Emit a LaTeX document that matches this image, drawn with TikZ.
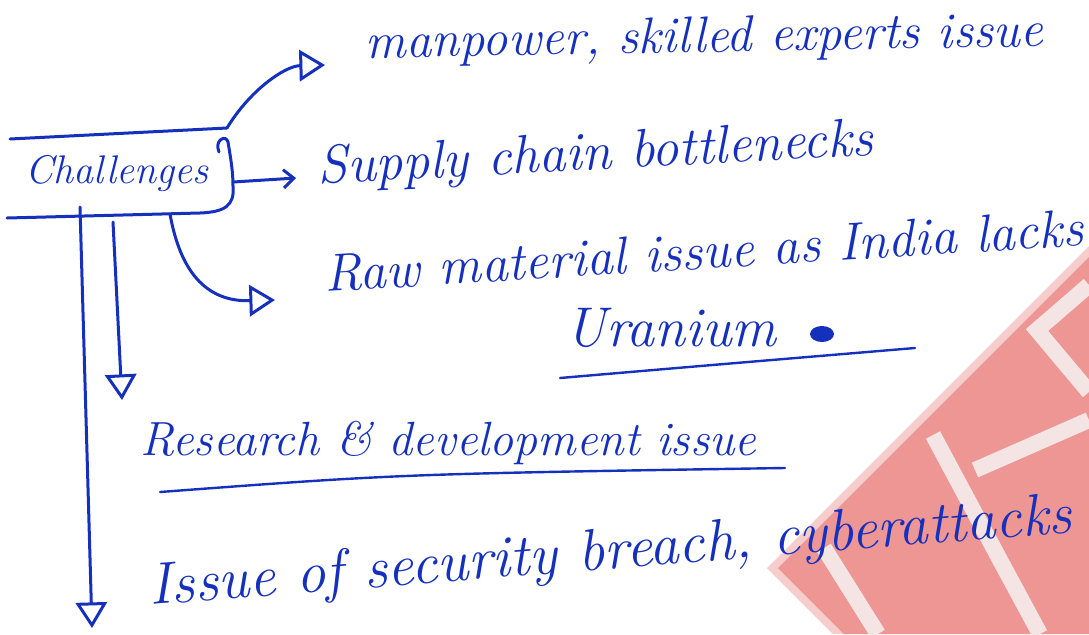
\documentclass[tikz,border=0pt]{standalone}
\usepackage{tikz}
\usetikzlibrary{positioning,arrows.meta,calc}

\definecolor{ink}{RGB}{22,48,190}
\definecolor{wmpink}{RGB}{238,150,148}
\definecolor{wmedge}{RGB}{247,205,203}
\definecolor{wmlight}{RGB}{244,228,228}

\begin{document}
\begin{tikzpicture}[
    x=0.5pt, y=-0.5pt,
    pen/.style={ink, line width=1.5pt, line cap=round, line join=round},
    arr/.style={pen, -{Triangle[open, length=4.5mm, width=5.5mm]}},
    barb/.style={pen, -{Straight Barb[length=1.8mm, width=3.2mm]}},
    hand/.style={ink, inner sep=0pt, anchor=base west, font=\fontsize{24}{28}\selectfont\itshape},
  ]
  \useasboundingbox (0,0) rectangle (1089,634);
  \fill[white] (0,0) rectangle (1089,634);

  % watermark in the corner
  \fill[wmedge] (767,568) -- (1089,246) -- (1089,634) -- (833,634) -- cycle;
  \fill[wmpink] (778,568) -- (1089,257) -- (1089,634) -- (844,634) -- cycle;
  \begin{scope}[wmlight, line width=8pt]
    \draw (824,548) -- (878,634);
    \draw (933,435) -- (1000,560) -- (1040,634);
    \draw (975,470) -- (1089,420);
    \draw (1089,285) -- (1037,330) -- (1089,392);
  \end{scope}

  % texts
  \node[hand, font=\fontsize{20}{24}\selectfont\itshape] (chal) at (25,183) {Challenges};
  \node[hand, font=\fontsize{25.5}{30}\selectfont\itshape, rotate=1] (manp) at (365,58) {manpower, skilled experts issue};
  \node[hand, font=\fontsize{27}{32}\selectfont\itshape, rotate=3] (supp) at (318,184) {Supply chain bottlenecks};
  \node[hand, font=\fontsize{26.5}{31}\selectfont\itshape, rotate=3.5] (raw) at (325,292) {Raw material issue as India lacks};
  \node[hand, font=\fontsize{28}{33}\selectfont\itshape] (uran) at (565,346) {Uranium};
  \node[hand] (rese) at (140,455) {Research \& development issue};
  \node[hand, font=\fontsize{29.5}{35}\selectfont\itshape, rotate=4.5] (secu) at (150,605) {Issue of security breach, cyberattacks};

  % box round the title
  \coordinate (btr) at (227,128);
  \coordinate (bmr) at (233,182);
  \coordinate (bbm) at (170,214);
  \coordinate (bb1) at (113,222);
  \coordinate (bb2) at (80,207);
  \draw[pen] (10,139) -- (btr);
  \draw[pen] (219,152) .. controls (214,140) and (226,134) .. (228,142)
    .. controls (231,160) and (233,172) .. (233,186)
    .. controls (235,206) and (224,212) .. (200,213) -- (7,218);

  % arrows
  \draw[arr] (btr) .. controls (250,90) and (285,66) .. ($(manp.base west)+(-40,7)$);
  \draw[barb] (bmr) -- ($(supp.base west)+(-22,-6)$);
  \draw[arr] (bbm) .. controls (180,270) and (205,302) .. ($(raw.base west)+(-50,8)$);
  \draw[arr] (bb1) -- ($(rese.base west)+(-18,-55)$);
  \draw[arr] (bb2) -- ($(secu.base west)+(-58,23)$);

  % underlines and the scribble
  \draw[pen, line width=1.2pt] (560,378) .. controls (700,366) .. (915,348);
  \draw[pen, line width=1.2pt] (160,492) .. controls (400,474) .. (785,468);
  \fill[ink] (822,334) ellipse [x radius=12, y radius=8];
\end{tikzpicture}
\end{document}
